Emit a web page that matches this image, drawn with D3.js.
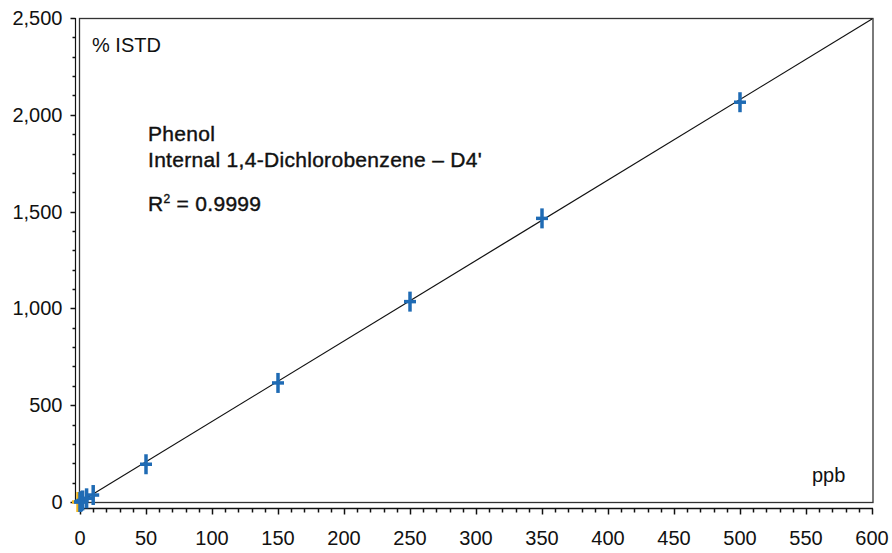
<!DOCTYPE html>
<html>
<head>
<meta charset="utf-8">
<script src="https://cdn.jsdelivr.net/npm/d3@7"></script>
<style>
  body { margin: 0; background: #fff; }
  svg text { font-family: "Liberation Sans", Arial, Helvetica, sans-serif; fill: #111; }
</style>
</head>
<body>
<svg id="chart" width="892" height="553"></svg>
<script>
// calibration points (ppb, % ISTD)
var concentrations = [0, 0.5, 1, 2, 5, 10, 50, 150, 250, 350, 500];
var responses      = [0, 2, 4, 8, 19, 36, 195, 615, 1035, 1465, 2065];
var excludedX = [-1.5];
var excludedY = [0];
var fitSlope = 4.158;

var xTicks = [0, 50, 100, 150, 200, 250, 300, 350, 400, 450, 500, 550, 600];
var yTicks = [0, 500, 1000, 1500, 2000, 2500];
var labelLines = ['Phenol', 'Internal 1,4-Dichlorobenzene \u2013 D4\''];

(function() {
    var svg = d3.select('#chart');
    var pLeft = 80, pRight = 873, pTop = 18, pBottom = 502;

    var x = d3.scaleLinear().domain([0, 600]).range([pLeft, 872]);
    var y = d3.scaleLinear().domain([0, 2500]).range([pBottom, pTop]);
    var fmt = d3.format(',');

    // frame
    svg.append('rect')
        .attr('x', 79.5).attr('y', pTop + 0.5)
        .attr('width', pRight - 79.5).attr('height', pBottom - pTop)
        .style('fill', 'none').style('stroke', '#333').style('stroke-width', 1.3);

    // y axis, major + minor ticks to the left
    var yAxis = svg.append('g').attr('transform', 'translate(75.5,0)');
    yAxis.append('line')
        .attr('y1', pTop).attr('y2', pBottom + 1)
        .style('stroke', '#111').style('stroke-width', 1.2);
    yAxis.selectAll('line.minor')
        .data(d3.range(0, 2501, 100))
        .enter().append('line').attr('class', 'minor')
        .attr('x1', function(d) { return yTicks.indexOf(d) >= 0 ? -5 : -3; })
        .attr('x2', 0)
        .attr('y1', function(d) { return Math.round(y(d)) + 0.5; })
        .attr('y2', function(d) { return Math.round(y(d)) + 0.5; })
        .style('stroke', '#111').style('stroke-width', 1.5);
    yAxis.selectAll('text')
        .data(yTicks)
        .enter().append('text')
        .attr('x', -13)
        .attr('y', function(d) { return y(d); })
        .attr('dy', '0.35em')
        .attr('text-anchor', 'end')
        .style('font-size', '20px')
        .text(function(d) { return fmt(d); });

    // x axis, below the frame
    var xAxis = svg.append('g').attr('transform', 'translate(0,508.5)');
    xAxis.append('line')
        .attr('x1', pLeft - 1).attr('x2', 873)
        .style('stroke', '#111').style('stroke-width', 1.5);
    xAxis.selectAll('line.minor')
        .data(d3.range(0, 601, 10))
        .enter().append('line').attr('class', 'minor')
        .attr('x1', function(d) { return Math.round(x(d)) + 0.5; })
        .attr('x2', function(d) { return Math.round(x(d)) + 0.5; })
        .attr('y1', 0)
        .attr('y2', function(d) { return d % 50 === 0 ? 6 : 4; })
        .style('stroke', '#111').style('stroke-width', 1.5);
    xAxis.selectAll('text')
        .data(xTicks)
        .enter().append('text')
        .attr('x', function(d) { return x(d); })
        .attr('y', 36)
        .attr('text-anchor', 'middle')
        .style('font-size', '20px')
        .text(function(d) { return d; });

    // regression line
    svg.append('line')
        .attr('x1', x(0)).attr('y1', y(0))
        .attr('x2', x(600)).attr('y2', y(600 * fitSlope))
        .style('stroke', '#111').style('stroke-width', 1.2);

    function cross(g, color) {
        g.append('line').attr('x1', -6).attr('x2', 6).attr('y1', 0).attr('y2', 0)
            .style('stroke', color).style('stroke-width', 3.5);
        g.append('line').attr('x1', 0).attr('x2', 0).attr('y1', -10).attr('y2', 10)
            .style('stroke', color).style('stroke-width', 3.5);
    }

    svg.selectAll('g.excluded')
        .data(d3.zip(excludedX, excludedY))
        .enter().append('g').attr('class', 'excluded')
        .attr('transform', function(d) { return 'translate(' + x(d[0]) + ',' + y(d[1]) + ')'; })
        .each(function() { cross(d3.select(this), '#f2b51c'); });

    svg.selectAll('g.pt')
        .data(d3.zip(concentrations, responses))
        .enter().append('g').attr('class', 'pt')
        .attr('transform', function(d) { return 'translate(' + x(d[0]) + ',' + y(d[1]) + ')'; })
        .each(function() { cross(d3.select(this), '#1f6bb4'); });

    // annotations
    svg.append('text').attr('x', 92).attr('y', 52)
        .style('font-size', '20px').text('% ISTD');
    svg.append('text').attr('x', 812).attr('y', 482)
        .style('font-size', '20px').text('ppb');

    var note = svg.append('g').attr('transform', 'translate(148,0)')
        .style('font-size', '21px').style('letter-spacing', '0.3px')
        .style('stroke', '#111').style('stroke-width', 0.4);
    note.selectAll('text.l')
        .data(labelLines)
        .enter().append('text').attr('class', 'l')
        .attr('y', function(d, i) { return 141 + i * 26; })
        .text(function(d) { return d; });
    var r2 = note.append('text').attr('y', 211);
    r2.append('tspan').text('R');
    r2.append('tspan').attr('dy', -8).style('font-size', '12px').text('2');
    r2.append('tspan').attr('dy', 8).text(' = 0.9999');
})();
</script>
</body>
</html>
